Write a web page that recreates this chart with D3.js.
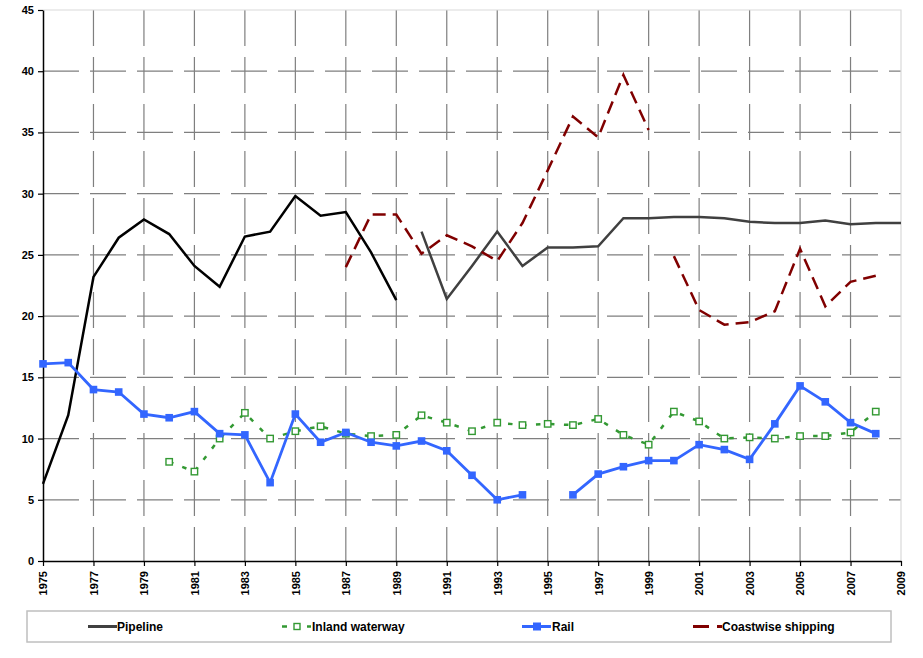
<!DOCTYPE html>
<html>
<head>
<meta charset="utf-8">
<script src="https://cdn.jsdelivr.net/npm/d3@7"></script>
<style>
  html, body { margin: 0; padding: 0; background: #fff; }
  svg { display: block; font-family: "Liberation Sans", Arial, sans-serif; }
  .tick text { font-size: 11px; font-weight: bold; fill: #000; }
  .legend text { font-size: 12px; font-weight: bold; fill: #000; }
</style>
</head>
<body>
<div id="chart"></div>
<script>
const years = d3.range(1975, 2010);
const yTicks = [0, 5, 10, 15, 20, 25, 30, 35, 40, 45];
const xTicks = d3.range(1975, 2010, 2);

// values per year 1975..2009, null = no data; breaks = year where a new line segment starts
const pipeline = [6.3, 11.9, 23.2, 26.4, 27.9, 26.7, 24.1, 22.4, 26.5, 26.9,
  29.8, 28.2, 28.5, 25.2, 21.3, 26.9, 21.4, 24.1, 26.9, 24.1,
  25.6, 25.6, 25.7, 28.0, 28.0, 28.1, 28.1, 28.0, 27.7, 27.6,
  27.6, 27.8, 27.5, 27.6, 27.6];
const pipelineBreaks = [1990];

const inlandWaterway = [null, null, null, null, null, 8.1, 7.3, 10.0, 12.1, 10.0,
  10.6, 11.0, 10.4, 10.2, 10.3, 11.9, 11.3, 10.6, 11.3, 11.1,
  11.2, 11.1, 11.6, 10.3, 9.5, 12.2, 11.4, 10.0, 10.1, 10.0,
  10.2, 10.2, 10.5, 12.2, null];

const rail = [16.1, 16.2, 14.0, 13.8, 12.0, 11.7, 12.2, 10.4, 10.3, 6.4,
  12.0, 9.7, 10.5, 9.7, 9.4, 9.8, 9.0, 7.0, 5.0, 5.4,
  null, 5.4, 7.1, 7.7, 8.2, 8.2, 9.5, 9.1, 8.3, 11.2,
  14.3, 13.0, 11.3, 10.4, null];

const coastwise = [null, null, null, null, null, null, null, null, null, null,
  null, null, 24.0, 28.3, 28.3, 25.1, 26.6, 25.7, 24.5, 27.6,
  31.9, 36.3, 34.6, 39.7, 35.2, 24.9, 20.5, 19.3, 19.5, 20.4,
  25.5, 20.8, 22.8, 23.3, null];
const coastwiseBreaks = [2000];

const W = 923, H = 658;
const x = d3.scaleLinear().domain([1975, 2009]).range([43, 901]);
const y = d3.scaleLinear().domain([0, 45]).range([561, 10]);

const svg = d3.select('#chart').append('svg')
  .attr('width', W).attr('height', H);

// split a series into drawable runs
function segments(values, breaks = []) {
  const out = [];
  let cur = [];
  years.forEach((yr, i) => {
    const v = values[i];
    if (v == null || breaks.includes(yr)) {
      if (cur.length) out.push(cur);
      cur = [];
    }
    if (v != null) cur.push({ year: yr, v });
  });
  if (cur.length) out.push(cur);
  return out;
}

// grid, dashed
const grid = svg.append('g').attr('class', 'grid');
grid.selectAll('line.h')
  .data(yTicks.filter((t) => t > 0 && t < 45))
  .join('line')
  .attr('class', 'h')
  .attr('x1', x(1975)).attr('x2', x(2009))
  .attr('y1', (d) => y(d)).attr('y2', (d) => y(d))
  .attr('stroke', '#7f7f7f').attr('stroke-width', 1.2)
  .attr('stroke-dasharray', '36,11');
grid.selectAll('line.v')
  .data(xTicks.filter((t) => t > 1975 && t < 2009))
  .join('line')
  .attr('class', 'v')
  .attr('x1', (d) => x(d)).attr('x2', (d) => x(d))
  .attr('y1', y(45)).attr('y2', y(0))
  .attr('stroke', '#7f7f7f').attr('stroke-width', 1.2)
  .attr('stroke-dasharray', '36,11');

// top / right border
svg.append('path')
  .attr('d', `M${x(1975)},${y(45)}H${x(2009)}V${y(0)}`)
  .attr('fill', 'none').attr('stroke', '#d9d9d9').attr('stroke-width', 1.2);

// axes
const yAxis = svg.append('g')
  .attr('transform', `translate(${x(1975)},0)`)
  .call(d3.axisLeft(y).tickValues(yTicks).tickSize(5).tickSizeOuter(0).tickPadding(4));
const xAxis = svg.append('g')
  .attr('transform', `translate(0,${y(0)})`)
  .call(d3.axisBottom(x).tickValues(xTicks).tickFormat(d3.format('d')).tickSize(5).tickSizeOuter(0));
[yAxis, xAxis].forEach((a) => {
  a.select('.domain').attr('stroke', '#000').attr('stroke-width', 1.5);
  a.selectAll('.tick line').attr('stroke', '#000').attr('stroke-width', 1.2);
});
xAxis.selectAll('.tick text')
  .attr('transform', 'rotate(-90)')
  .attr('text-anchor', 'end')
  .attr('x', -10).attr('y', 0).attr('dy', '0.35em');

const line = d3.line().x((d) => x(d.year)).y((d) => y(d.v));

// Pipeline
svg.append('g').selectAll('path')
  .data(segments(pipeline, pipelineBreaks))
  .join('path')
  .attr('d', line)
  .attr('fill', 'none')
  .attr('stroke', (d, i) => (i === 0 ? '#000' : '#404040'))
  .attr('stroke-width', 2.5);

// Inland waterway
const iw = svg.append('g');
iw.selectAll('path')
  .data(segments(inlandWaterway))
  .join('path')
  .attr('d', line)
  .attr('fill', 'none')
  .attr('stroke', '#339933').attr('stroke-width', 2.5)
  .attr('stroke-dasharray', '4.5,9.5');
iw.selectAll('rect')
  .data(segments(inlandWaterway).flat())
  .join('rect')
  .attr('x', (d) => x(d.year) - 3.2).attr('y', (d) => y(d.v) - 3.2)
  .attr('width', 6.4).attr('height', 6.4)
  .attr('fill', '#fff').attr('stroke', '#339933').attr('stroke-width', 1.4);

// Rail
const rl = svg.append('g');
rl.selectAll('path')
  .data(segments(rail))
  .join('path')
  .attr('d', line)
  .attr('fill', 'none')
  .attr('stroke', '#3366ff').attr('stroke-width', 2.8);
rl.selectAll('rect')
  .data(segments(rail).flat())
  .join('rect')
  .attr('x', (d) => x(d.year) - 3.8).attr('y', (d) => y(d.v) - 3.8)
  .attr('width', 7.6).attr('height', 7.6)
  .attr('fill', '#3366ff');

// Coastwise shipping
svg.append('g').selectAll('path')
  .data(segments(coastwise, coastwiseBreaks))
  .join('path')
  .attr('d', line)
  .attr('fill', 'none')
  .attr('stroke', '#800000').attr('stroke-width', 2.5)
  .attr('stroke-dasharray', '13,7');

// Legend
const lg = svg.append('g').attr('class', 'legend');
lg.append('rect')
  .attr('x', 27).attr('y', 611).attr('width', 864).attr('height', 31)
  .attr('fill', '#fff').attr('stroke', '#bfbfbf').attr('stroke-width', 1.5);
const ly = 626.5;

lg.append('line').attr('x1', 88).attr('x2', 117).attr('y1', ly).attr('y2', ly)
  .attr('stroke', '#404040').attr('stroke-width', 3);
lg.append('text').attr('x', 117).attr('y', ly).attr('dy', '0.35em').text('Pipeline');

lg.append('line').attr('x1', 282).attr('x2', 311).attr('y1', ly).attr('y2', ly)
  .attr('stroke', '#339933').attr('stroke-width', 2.5).attr('stroke-dasharray', '5,20');
lg.append('rect').attr('x', 294).attr('y', ly - 3).attr('width', 6).attr('height', 6)
  .attr('fill', '#fff').attr('stroke', '#339933').attr('stroke-width', 1.4);
lg.append('text').attr('x', 312).attr('y', ly).attr('dy', '0.35em').text('Inland waterway');

lg.append('line').attr('x1', 522).attr('x2', 551).attr('y1', ly).attr('y2', ly)
  .attr('stroke', '#3366ff').attr('stroke-width', 3);
lg.append('rect').attr('x', 533).attr('y', ly - 4).attr('width', 8).attr('height', 8)
  .attr('fill', '#3366ff');
lg.append('text').attr('x', 552).attr('y', ly).attr('dy', '0.35em').text('Rail');

lg.append('line').attr('x1', 693).attr('x2', 722).attr('y1', ly).attr('y2', ly)
  .attr('stroke', '#800000').attr('stroke-width', 3).attr('stroke-dasharray', '16,8');
lg.append('text').attr('x', 722).attr('y', ly).attr('dy', '0.35em').text('Coastwise shipping');
</script>
</body>
</html>
